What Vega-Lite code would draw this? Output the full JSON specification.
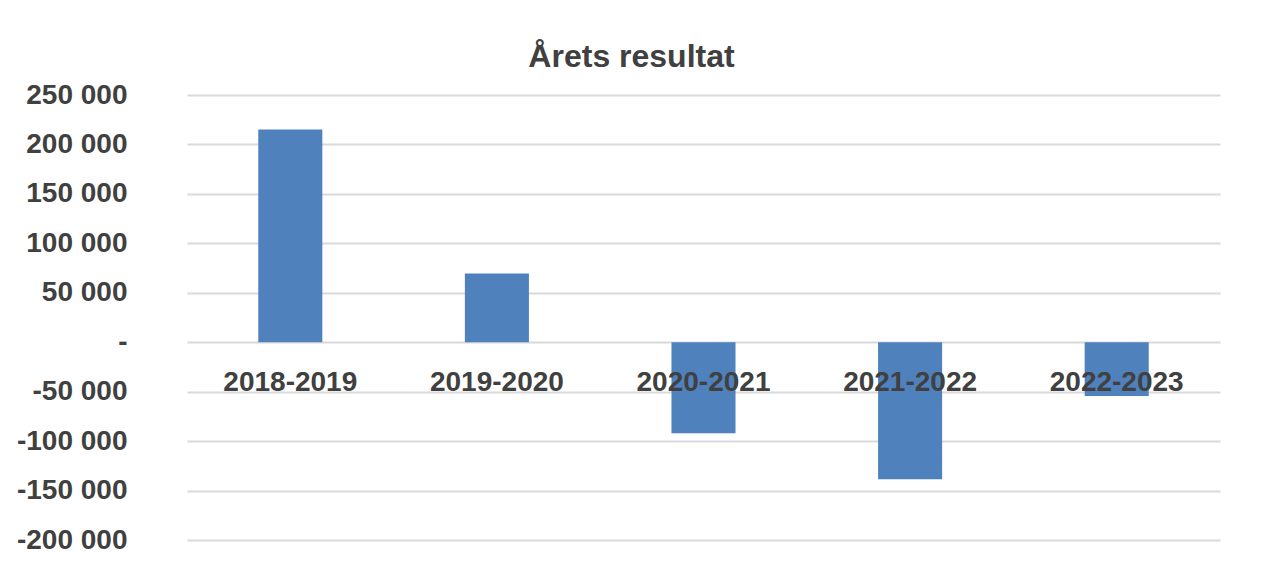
{
  "$schema": "https://vega.github.io/schema/vega-lite/v6.json",
  "autosize": {"type": "none"},
  "width": 1033,
  "height": 445,
  "padding": {"left": 187, "top": 95, "right": 42, "bottom": 48},
  "background": "white",
  "title": {
    "text": "Årets resultat",
    "font": "Liberation Sans",
    "fontSize": 32,
    "fontWeight": "bold",
    "color": "#404040",
    "anchor": "middle",
    "dx": -72,
    "dy": 32,
    "baseline": "alphabetic",
    "offset": 14
  },
  "data": {
    "values": [
      {"period": "2018-2019", "value": 215000},
      {"period": "2019-2020", "value": 69500},
      {"period": "2020-2021", "value": -92000},
      {"period": "2021-2022", "value": -138500},
      {"period": "2022-2023", "value": -54500}
    ]
  },
  "encoding": {
    "x": {
      "field": "period",
      "type": "nominal",
      "sort": null,
      "axis": null,
      "scale": {"paddingInner": 0.69, "paddingOuter": 0.345}
    }
  },
  "layer": [
    {
      "mark": {"type": "bar", "color": "#4F81BD"},
      "encoding": {
        "y": {
          "field": "value",
          "type": "quantitative",
          "scale": {"domain": [-200000, 250000], "nice": false, "zero": false},
          "axis": {
            "title": null,
            "values": [-200000, -150000, -100000, -50000, 0, 50000, 100000, 150000, 200000, 250000],
            "labelExpr": "datum.value == 0 ? '-\u00a0\u00a0' : replace(replace(format(datum.value, ',d'), ',', ' '), '\u2212', '-')",
            "labelFont": "Liberation Sans",
            "labelFontSize": 28,
            "labelFontWeight": "bold",
            "labelColor": "#404040",
            "labelPadding": 60,
            "ticks": false,
            "domain": false,
            "grid": true,
            "gridColor": "#d9d9d9",
            "gridWidth": 2
          }
        }
      }
    },
    {
      "mark": {
        "type": "text",
        "font": "Liberation Sans",
        "fontSize": 28,
        "fontWeight": "bold",
        "color": "#404040",
        "baseline": "middle",
        "align": "center",
        "dy": 41
      },
      "encoding": {
        "y": {"datum": 0},
        "text": {"field": "period", "type": "nominal"}
      }
    }
  ],
  "config": {
    "view": {"stroke": null}
  }
}
